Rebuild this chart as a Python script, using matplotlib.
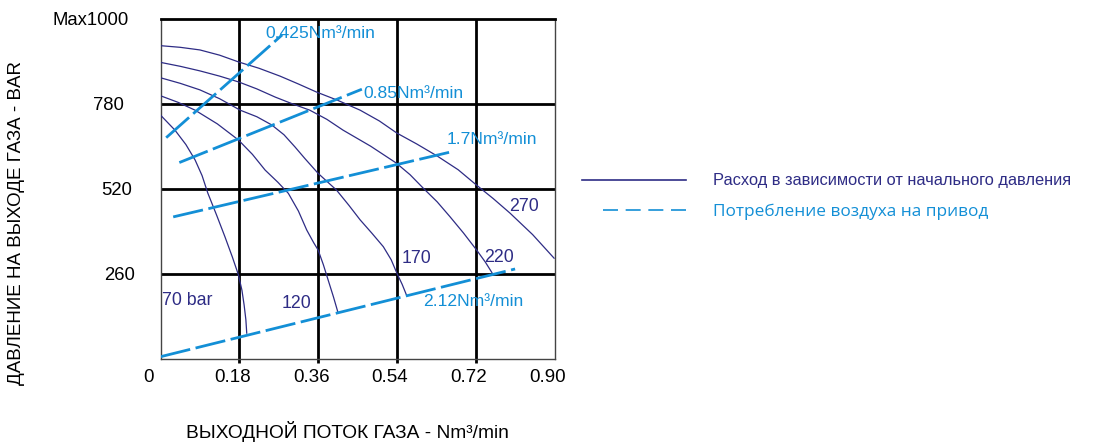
import matplotlib
matplotlib.use("Agg")
import matplotlib.pyplot as plt
from matplotlib.lines import Line2D
from matplotlib.transforms import ScaledTranslation

plt.rcParams['font.family'] = ['Liberation Sans', 'DejaVu Sans']

# ---- data ----
x_ticks = [0.18, 0.36, 0.54, 0.72, 0.90]
x_tick_labels = ["0.18", "0.36", "0.54", "0.72", "0.90"]
y_ticks = [260, 520, 780, 1040]
y_tick_labels = ["260", "520", "780", "Max1000"]

# pressure curves (inlet pressure, bar)
p270_x = [0.0, 0.045, 0.090, 0.135, 0.179, 0.225, 0.273, 0.315, 0.357, 0.405, 0.456, 0.500, 0.540, 0.585, 0.632, 0.680, 0.722, 0.760, 0.798, 0.850, 0.899]
p270_y = [957, 952, 944, 928, 907, 888, 864, 840, 815, 790, 760, 727, 690, 657, 620, 578, 531, 490, 446, 380, 308]
p220_x = [0.0, 0.045, 0.090, 0.135, 0.179, 0.220, 0.262, 0.300, 0.341, 0.380, 0.417, 0.480, 0.538, 0.570, 0.600, 0.632, 0.661, 0.692, 0.722, 0.742, 0.757]
p220_y = [906, 894, 880, 864, 846, 825, 800, 780, 760, 732, 699, 650, 599, 563, 522, 480, 435, 385, 333, 296, 264]
p170_x = [0.0, 0.045, 0.090, 0.135, 0.182, 0.220, 0.254, 0.282, 0.307, 0.330, 0.360, 0.402, 0.430, 0.456, 0.483, 0.509, 0.527, 0.540, 0.552, 0.562]
p170_y = [859, 842, 822, 795, 760, 740, 715, 685, 648, 612, 567, 516, 470, 425, 384, 343, 303, 262, 228, 195]
p120_x = [0.0, 0.040, 0.079, 0.130, 0.178, 0.210, 0.239, 0.268, 0.292, 0.315, 0.334, 0.350, 0.360, 0.372, 0.383, 0.395, 0.405]
p120_y = [804, 784, 760, 718, 669, 625, 577, 540, 506, 452, 394, 355, 333, 288, 241, 190, 144]
p70_x = [0.0, 0.033, 0.058, 0.079, 0.095, 0.108, 0.128, 0.147, 0.164, 0.178, 0.186, 0.191, 0.195, 0.197]
p70_y = [745, 699, 655, 608, 560, 507, 440, 374, 312, 257, 210, 165, 120, 79]

curve_labels = ["70 bar", "120", "170", "220", "270"]
curve_label_x = [0.003, 0.311, 0.584, 0.773, 0.830]
curve_label_y = [178, 168, 308, 311, 466]

# air consumption lines
air_labels = ["0.425Nm³/min", "0.85Nm³/min", "1.7Nm³/min", "2.12Nm³/min"]
air_x0 = [0.013, 0.043, 0.029, 0.000]
air_y0 = [676, 600, 434, 7]
air_x1 = [0.278, 0.460, 0.665, 0.810]
air_y1 = [990, 824, 633, 275]
air_label_x = [0.239, 0.463, 0.654, 0.600]
air_label_y = [995, 811, 669, 175]

NAVY = '#2e2c85'
BLUE = '#138fd6'

fig = plt.figure(figsize=(10.99, 4.42), dpi=100)
ax = fig.add_axes([160.5/1099, 1 - 359/442, 394/1099, 340.5/442])
ax.set_xlim(0, 0.9)
ax.set_ylim(0, 1040)

# grid
for v in x_ticks[:-1]:
    ax.axvline(v, color='black', lw=2.0, zorder=1)
for v in y_ticks[:-1]:
    ax.axhline(v, color='black', lw=2.0, zorder=1)

ax.set_xticks(x_ticks[:-1])
ax.set_xticklabels([])
ax.tick_params(axis='x', length=3, width=2, color='black', direction='out')
ax.set_yticks([])
for s in ['left', 'right', 'bottom']:
    ax.spines[s].set_linewidth(1.0)
    ax.spines[s].set_color('#444444')
ax.spines['top'].set_linewidth(2.0)
ax.spines['top'].set_color('black')

# curves
for xs, ys in [(p270_x, p270_y), (p220_x, p220_y), (p170_x, p170_y),
               (p120_x, p120_y), (p70_x, p70_y)]:
    ax.plot(xs, ys, color=NAVY, lw=0.9, zorder=3)

for t, x, y in zip(curve_labels, curve_label_x, curve_label_y):
    ha = 'left' if t == "70 bar" else 'center'
    ax.text(x, y, t, color=NAVY, fontsize=12.8, ha=ha, va='center', zorder=4)

# air lines
for x0, y0, x1, y1 in zip(air_x0, air_y0, air_x1, air_y1):
    ln, = ax.plot([x0, x1], [y0, y1], color=BLUE, lw=2.0, zorder=4)
    ln.set_dashes((11, 2))
for t, x, y in zip(air_labels, air_label_x, air_label_y):
    ax.text(x, y, t, color=BLUE, fontsize=12.6, ha='left', va='center', zorder=5)

# tick labels
xoff = ScaledTranslation(-7/100, 0, fig.dpi_scale_trans)
for v, t in zip(x_ticks, x_tick_labels):
    ax.text(v, -0.053, t, transform=ax.get_xaxis_transform() + xoff,
            ha='center', va='center', fontsize=13.5, color='black')
ax.text(0, -0.053, "0", transform=ax.get_xaxis_transform() + ScaledTranslation(-12/100, 0, fig.dpi_scale_trans),
        ha='center', va='center', fontsize=13.5, color='black')

ytick_xfrac = [-0.1028, -0.1117, -0.1332, -0.1777]
yoff = ScaledTranslation(0, -2/100, fig.dpi_scale_trans)
for v, t, xf in zip(y_ticks, y_tick_labels, ytick_xfrac):
    ax.text(xf, v, t, transform=ax.get_yaxis_transform() + yoff,
            ha='center', va='center', fontsize=13.3, color='black')

# axis titles
fig.text(347/1099, 1 - 432/442, "ВЫХОДНОЙ ПОТОК ГАЗА - Nm³/min", ha='center', va='center',
         fontsize=13.8, color='black')
fig.text(17/1099, 1 - 223/442, "ДАВЛЕНИЕ НА ВЫХОДЕ ГАЗА - BAR", ha='center', va='center',
         rotation=90, fontsize=13.5, color='black')

# legend
fig.add_artist(Line2D([582/1099, 686/1099], [1 - 180/442, 1 - 180/442], color=NAVY, lw=1.2))
lg2 = Line2D([603/1099, 686/1099], [1 - 210/442, 1 - 210/442], color=BLUE, lw=1.2)
lg2.set_dashes((9, 4.6))
fig.add_artist(lg2)
fig.text(713/1099, 1 - 180/442, "Расход в зависимости от начального давления",
         ha='left', va='center', fontsize=11.8, color=NAVY)
fig.text(713/1099, 1 - 212/442, "Потребление воздуха на привод",
         ha='left', va='center', fontsize=12.4, color=BLUE, family=['Open Sans', 'DejaVu Sans'])

fig.savefig("out.png", dpi=100)
